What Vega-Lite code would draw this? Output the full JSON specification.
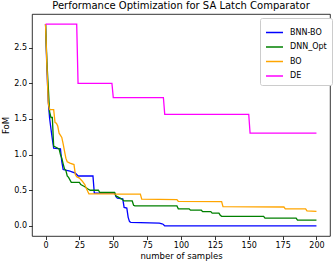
{
  "$schema": "https://vega.github.io/schema/vega-lite/v6.json",
  "width": 298,
  "height": 222,
  "autosize": "none",
  "padding": {"left": 32, "top": 14, "right": 4, "bottom": 26},
  "background": "white",
  "title": {"text": "Performance Optimization for SA Latch Comparator", "font": "DejaVu Sans", "fontSize": 10, "fontWeight": "normal", "color": "#000", "offset": 3},
  "config": {
    "view": {"stroke": "#000", "strokeWidth": 0.8},
    "axis": {"labelFont": "DejaVu Sans", "titleFont": "DejaVu Sans", "labelFontSize": 8, "titleFontSize": 8.5, "titleFontWeight": "normal", "labelColor": "#000", "titleColor": "#000", "tickColor": "#000", "tickSize": 3.5, "tickWidth": 0.8, "domain": false, "grid": false, "labelPadding": 2},
    "legend": {"labelFont": "DejaVu Sans", "labelFontSize": 8}
  },
  "data": {"values": [
    {"s": "BNN-BO", "x": 0, "y": 2.83}, {"s": "BNN-BO", "x": 1, "y": 2.2}, {"s": "BNN-BO", "x": 2, "y": 1.75}, {"s": "BNN-BO", "x": 3, "y": 1.51}, {"s": "BNN-BO", "x": 4, "y": 1.36}, {"s": "BNN-BO", "x": 5, "y": 1.22}, {"s": "BNN-BO", "x": 6, "y": 1.09}, {"s": "BNN-BO", "x": 11, "y": 1.08}, {"s": "BNN-BO", "x": 12, "y": 0.9}, {"s": "BNN-BO", "x": 13, "y": 0.79}, {"s": "BNN-BO", "x": 18, "y": 0.77}, {"s": "BNN-BO", "x": 19, "y": 0.76}, {"s": "BNN-BO", "x": 22, "y": 0.74}, {"s": "BNN-BO", "x": 23, "y": 0.72}, {"s": "BNN-BO", "x": 24, "y": 0.7}, {"s": "BNN-BO", "x": 35, "y": 0.7}, {"s": "BNN-BO", "x": 36, "y": 0.46}, {"s": "BNN-BO", "x": 51, "y": 0.46}, {"s": "BNN-BO", "x": 52, "y": 0.41}, {"s": "BNN-BO", "x": 53, "y": 0.39}, {"s": "BNN-BO", "x": 57, "y": 0.38}, {"s": "BNN-BO", "x": 58, "y": 0.26}, {"s": "BNN-BO", "x": 60, "y": 0.25}, {"s": "BNN-BO", "x": 61, "y": 0.12}, {"s": "BNN-BO", "x": 62, "y": 0.06}, {"s": "BNN-BO", "x": 63, "y": 0.05}, {"s": "BNN-BO", "x": 84, "y": 0.04}, {"s": "BNN-BO", "x": 86, "y": 0.03}, {"s": "BNN-BO", "x": 87, "y": 0.02}, {"s": "BNN-BO", "x": 88, "y": 0.0}, {"s": "BNN-BO", "x": 200, "y": 0.0},

    {"s": "DNN_Opt", "x": 0, "y": 2.83}, {"s": "DNN_Opt", "x": 1, "y": 2.3}, {"s": "DNN_Opt", "x": 2, "y": 1.95}, {"s": "DNN_Opt", "x": 3, "y": 1.6}, {"s": "DNN_Opt", "x": 4, "y": 1.52}, {"s": "DNN_Opt", "x": 5, "y": 1.52}, {"s": "DNN_Opt", "x": 6, "y": 1.12}, {"s": "DNN_Opt", "x": 8, "y": 1.1}, {"s": "DNN_Opt", "x": 10, "y": 1.08}, {"s": "DNN_Opt", "x": 11, "y": 1.0}, {"s": "DNN_Opt", "x": 12, "y": 0.95}, {"s": "DNN_Opt", "x": 13, "y": 0.87}, {"s": "DNN_Opt", "x": 14, "y": 0.8}, {"s": "DNN_Opt", "x": 15, "y": 0.78}, {"s": "DNN_Opt", "x": 16, "y": 0.7}, {"s": "DNN_Opt", "x": 17, "y": 0.68}, {"s": "DNN_Opt", "x": 19, "y": 0.61}, {"s": "DNN_Opt", "x": 25, "y": 0.61}, {"s": "DNN_Opt", "x": 26, "y": 0.58}, {"s": "DNN_Opt", "x": 28, "y": 0.56}, {"s": "DNN_Opt", "x": 29, "y": 0.55}, {"s": "DNN_Opt", "x": 31, "y": 0.52}, {"s": "DNN_Opt", "x": 33, "y": 0.5}, {"s": "DNN_Opt", "x": 39, "y": 0.5}, {"s": "DNN_Opt", "x": 40, "y": 0.47}, {"s": "DNN_Opt", "x": 51, "y": 0.47}, {"s": "DNN_Opt", "x": 52, "y": 0.42}, {"s": "DNN_Opt", "x": 53, "y": 0.41}, {"s": "DNN_Opt", "x": 55, "y": 0.39}, {"s": "DNN_Opt", "x": 56, "y": 0.38}, {"s": "DNN_Opt", "x": 58, "y": 0.35}, {"s": "DNN_Opt", "x": 64, "y": 0.35}, {"s": "DNN_Opt", "x": 65, "y": 0.29}, {"s": "DNN_Opt", "x": 66, "y": 0.28}, {"s": "DNN_Opt", "x": 97, "y": 0.28}, {"s": "DNN_Opt", "x": 98, "y": 0.24}, {"s": "DNN_Opt", "x": 106, "y": 0.24}, {"s": "DNN_Opt", "x": 107, "y": 0.22}, {"s": "DNN_Opt", "x": 115, "y": 0.22}, {"s": "DNN_Opt", "x": 116, "y": 0.2}, {"s": "DNN_Opt", "x": 122, "y": 0.2}, {"s": "DNN_Opt", "x": 123, "y": 0.18}, {"s": "DNN_Opt", "x": 128, "y": 0.18}, {"s": "DNN_Opt", "x": 129, "y": 0.15}, {"s": "DNN_Opt", "x": 130, "y": 0.135}, {"s": "DNN_Opt", "x": 161, "y": 0.135}, {"s": "DNN_Opt", "x": 162, "y": 0.11}, {"s": "DNN_Opt", "x": 185, "y": 0.11}, {"s": "DNN_Opt", "x": 186, "y": 0.08}, {"s": "DNN_Opt", "x": 200, "y": 0.08},

    {"s": "BO", "x": 0, "y": 2.83}, {"s": "BO", "x": 1, "y": 2.25}, {"s": "BO", "x": 2, "y": 1.72}, {"s": "BO", "x": 3, "y": 1.63}, {"s": "BO", "x": 6, "y": 1.63}, {"s": "BO", "x": 7, "y": 1.45}, {"s": "BO", "x": 8, "y": 1.44}, {"s": "BO", "x": 9, "y": 1.4}, {"s": "BO", "x": 10, "y": 1.3}, {"s": "BO", "x": 12, "y": 1.24}, {"s": "BO", "x": 13, "y": 1.15}, {"s": "BO", "x": 14, "y": 1.05}, {"s": "BO", "x": 15, "y": 0.95}, {"s": "BO", "x": 16, "y": 0.9}, {"s": "BO", "x": 18, "y": 0.88}, {"s": "BO", "x": 21, "y": 0.86}, {"s": "BO", "x": 22, "y": 0.72}, {"s": "BO", "x": 23, "y": 0.69}, {"s": "BO", "x": 25, "y": 0.67}, {"s": "BO", "x": 27, "y": 0.63}, {"s": "BO", "x": 29, "y": 0.58}, {"s": "BO", "x": 30, "y": 0.53}, {"s": "BO", "x": 31, "y": 0.49}, {"s": "BO", "x": 32, "y": 0.45}, {"s": "BO", "x": 50, "y": 0.45}, {"s": "BO", "x": 51, "y": 0.445}, {"s": "BO", "x": 70, "y": 0.445}, {"s": "BO", "x": 71, "y": 0.375}, {"s": "BO", "x": 97, "y": 0.37}, {"s": "BO", "x": 98, "y": 0.345}, {"s": "BO", "x": 130, "y": 0.34}, {"s": "BO", "x": 131, "y": 0.27}, {"s": "BO", "x": 176, "y": 0.265}, {"s": "BO", "x": 177, "y": 0.24}, {"s": "BO", "x": 192, "y": 0.24}, {"s": "BO", "x": 193, "y": 0.21}, {"s": "BO", "x": 200, "y": 0.205},

    {"s": "DE", "x": 0, "y": 2.83}, {"s": "DE", "x": 23, "y": 2.83}, {"s": "DE", "x": 24, "y": 2.0}, {"s": "DE", "x": 49, "y": 2.0}, {"s": "DE", "x": 50, "y": 1.8}, {"s": "DE", "x": 87, "y": 1.8}, {"s": "DE", "x": 88, "y": 1.565}, {"s": "DE", "x": 150, "y": 1.565}, {"s": "DE", "x": 151, "y": 1.3}, {"s": "DE", "x": 200, "y": 1.3}
  ]},
  "mark": {"type": "line", "strokeWidth": 1.3, "clip": true},
  "encoding": {
    "x": {"field": "x", "type": "quantitative", "scale": {"domain": [-10, 210], "nice": false, "zero": false}, "axis": {"title": "number of samples", "values": [0, 25, 50, 75, 100, 125, 150, 175, 200], "titlePadding": 2}},
    "y": {"field": "y", "type": "quantitative", "scale": {"domain": [-0.1415, 2.9715], "nice": false, "zero": false}, "axis": {"title": "FoM", "values": [0, 0.5, 1, 1.5, 2, 2.5], "format": ".1f", "titlePadding": 3}},
    "color": {"field": "s", "type": "nominal", "sort": ["BNN-BO", "DNN_Opt", "BO", "DE"],
      "scale": {"domain": ["BNN-BO", "DNN_Opt", "BO", "DE"], "range": ["#0000ff", "#008000", "#ffa500", "#ff00ff"]},
      "legend": {"title": null, "orient": "none", "legendX": 228, "legendY": 4, "symbolType": "stroke", "symbolSize": 289, "symbolStrokeWidth": 1.5, "rowPadding": 0.5, "padding": 5, "fillColor": "white", "strokeColor": "#ccc", "cornerRadius": 2, "labelOffset": 6}
    }
  }
}
